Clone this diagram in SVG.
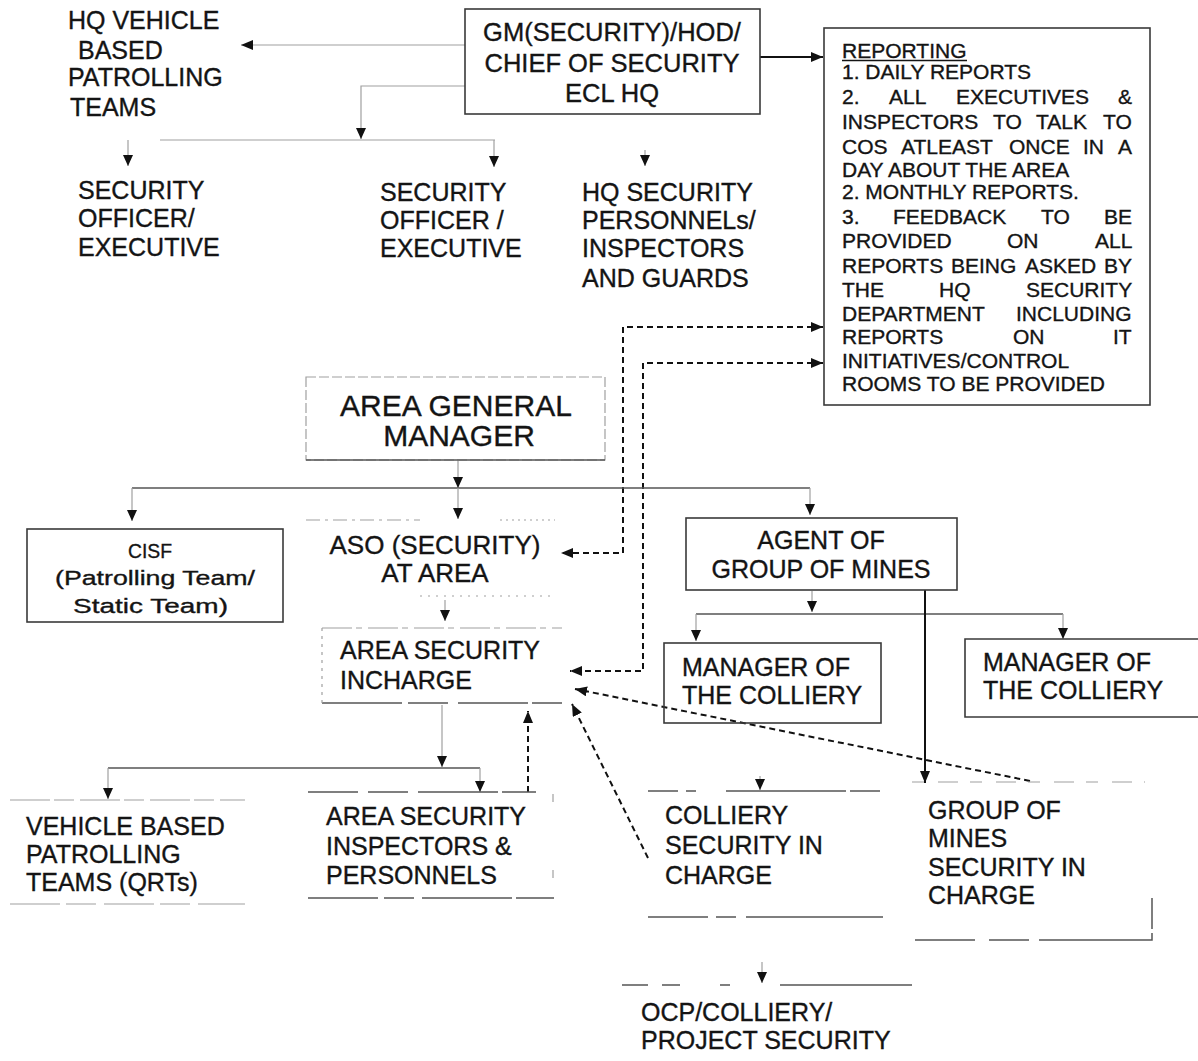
<svg xmlns="http://www.w3.org/2000/svg" width="1198" height="1061" viewBox="0 0 1198 1061">
<defs>
<style>
text{font-family:"Liberation Sans",Arial,sans-serif;fill:#141414;stroke:#141414;stroke-width:0.35;}
.t25{font-size:25px}
.t21{font-size:21px}
.box{fill:none;stroke:#3a3a3a;stroke-width:1.6}
.fbox{fill:none;stroke:#a0a0a0;stroke-width:1.2}
.faint{fill:none;stroke:#a0a0a0;stroke-width:1.2}
.mid{fill:none;stroke:#555;stroke-width:1.5}
.edge{fill:none;stroke:#111;stroke-width:2}
.dash{fill:none;stroke:#111;stroke-width:2;stroke-dasharray:6 4}
</style>
<marker id="arr" viewBox="0 0 12 10" refX="12" refY="5" markerWidth="12" markerHeight="10" markerUnits="userSpaceOnUse" orient="auto-start-reverse"><path d="M0,0 L12,5 L0,10 z" fill="#111"/></marker>
<marker id="tri" viewBox="0 0 11 10" refX="11" refY="5" markerWidth="11" markerHeight="10" markerUnits="userSpaceOnUse" orient="auto"><path d="M0,0 L11,5 L0,10 z" fill="#111"/></marker>
</defs>
<rect x="0" y="0" width="1198" height="1061" fill="#fff"/>

<g id="connectors">
  <path class="faint" d="M465,45 H241" marker-end="url(#arr)"/>
  <path class="faint" d="M465,86 H361 V139" marker-end="url(#tri)"/>
  <path class="faint" d="M160,140 H495"/>
  <path class="faint" d="M128,140 V166" marker-end="url(#tri)"/>
  <path class="faint" d="M494,140 V167" marker-end="url(#tri)"/>
  <path class="faint" d="M645,150 V166" marker-end="url(#tri)"/>
  <path class="edge" d="M760,57 H823" marker-end="url(#arr)"/>
  <path class="dash" d="M823,327 H623 V553 H561" marker-start="url(#arr)" marker-end="url(#arr)"/>
  <path class="dash" d="M823,363 H643 V671 H570" marker-start="url(#arr)" marker-end="url(#arr)"/>
  <path class="faint" d="M458,461 V488" marker-end="url(#tri)"/>
  <path class="mid" d="M132,488 H810"/>
  <path class="faint" d="M132,488 V521" marker-end="url(#tri)"/>
  <path class="faint" d="M458,488 V519" marker-end="url(#tri)"/>
  <path class="faint" d="M810,488 V515" marker-end="url(#tri)"/>
  <path class="faint" d="M445,600 V621" marker-end="url(#tri)"/>
  <path class="faint" d="M812,591 V612" marker-end="url(#tri)"/>
  <path class="mid" d="M696,614 H1063"/>
  <path class="faint" d="M696,614 V641" marker-end="url(#tri)"/>
  <path class="faint" d="M1063,614 V639" marker-end="url(#tri)"/>
  <path class="edge" d="M925,590 V783" marker-end="url(#arr)"/>
  <path class="dash" d="M1030,781 L575,689" marker-end="url(#arr)"/>
  <path class="dash" d="M648,858 L572,704" marker-end="url(#arr)"/>
  <path class="faint" d="M442,705 V767" marker-end="url(#tri)"/>
  <path class="mid" d="M108,768 H480"/>
  <path class="faint" d="M108,768 V799" marker-end="url(#tri)"/>
  <path class="faint" d="M480,768 V792" marker-end="url(#tri)"/>
  <path class="dash" d="M528,792 V711" marker-end="url(#arr)"/>
  <path class="faint" d="M760,776 V790" marker-end="url(#tri)"/>
  <path class="faint" d="M762,962 V983" marker-end="url(#tri)"/>
</g>

<g id="hq-vehicle">
  <text class="t25" x="68" y="29">HQ VEHICLE</text>
  <text class="t25" x="78" y="59">BASED</text>
  <text class="t25" x="68" y="86">PATROLLING</text>
  <text class="t25" x="70" y="116">TEAMS</text>
</g>

<g id="gm">
  <rect class="box" x="465" y="9" width="295" height="105"/>
  <text x="612" y="41" font-size="25.5" text-anchor="middle">GM(SECURITY)/HOD/</text>
  <text x="612" y="72" font-size="25.5" text-anchor="middle">CHIEF OF SECURITY</text>
  <text x="612" y="102" font-size="25.5" text-anchor="middle">ECL HQ</text>
</g>

<g id="officer1">
  <text class="t25" x="78" y="199">SECURITY</text>
  <text class="t25" x="78" y="227">OFFICER/</text>
  <text class="t25" x="78" y="256">EXECUTIVE</text>
</g>

<g id="officer2">
  <text class="t25" x="380" y="201">SECURITY</text>
  <text class="t25" x="380" y="229">OFFICER /</text>
  <text class="t25" x="380" y="257">EXECUTIVE</text>
</g>

<g id="hq-personnel">
  <text class="t25" x="582" y="201">HQ SECURITY</text>
  <text class="t25" x="582" y="229">PERSONNELs/</text>
  <text class="t25" x="582" y="257">INSPECTORS</text>
  <text class="t25" x="582" y="287">AND GUARDS</text>
</g>

<g id="reporting">
  <rect class="box" x="824" y="28" width="326" height="377"/>
  <text class="t21" x="842" y="57.5">REPORTING</text>
  <line x1="842" y1="60.5" x2="967" y2="60.5" stroke="#141414" stroke-width="1.4"/>
  <text class="t21" x="842" y="79">1. DAILY REPORTS</text>
  <text class="t21" y="104"><tspan x="842">2.</tspan><tspan x="889">ALL</tspan><tspan x="956">EXECUTIVES</tspan><tspan x="1118">&amp;</tspan></text>
  <text class="t21" y="129"><tspan x="842">INSPECTORS</tspan><tspan x="993">TO</tspan><tspan x="1036">TALK</tspan><tspan x="1103">TO</tspan></text>
  <text class="t21" y="154"><tspan x="842">COS</tspan><tspan x="901">ATLEAST</tspan><tspan x="1009">ONCE</tspan><tspan x="1083">IN</tspan><tspan x="1118">A</tspan></text>
  <text class="t21" x="842" y="177">DAY ABOUT THE AREA</text>
  <text class="t21" x="842" y="199">2. MONTHLY REPORTS.</text>
  <text class="t21" y="224"><tspan x="842">3.</tspan><tspan x="893">FEEDBACK</tspan><tspan x="1041">TO</tspan><tspan x="1104">BE</tspan></text>
  <text class="t21" y="248"><tspan x="842">PROVIDED</tspan><tspan x="1007">ON</tspan><tspan x="1095">ALL</tspan></text>
  <text class="t21" y="272.5"><tspan x="842">REPORTS</tspan><tspan x="951">BEING</tspan><tspan x="1025">ASKED</tspan><tspan x="1104">BY</tspan></text>
  <text class="t21" y="297"><tspan x="842">THE</tspan><tspan x="939">HQ</tspan><tspan x="1026">SECURITY</tspan></text>
  <text class="t21" y="321"><tspan x="842">DEPARTMENT</tspan><tspan x="1016">INCLUDING</tspan></text>
  <text class="t21" y="344"><tspan x="842">REPORTS</tspan><tspan x="1013">ON</tspan><tspan x="1113">IT</tspan></text>
  <text class="t21" x="842" y="368">INITIATIVES/CONTROL</text>
  <text class="t21" x="842" y="391">ROOMS TO BE PROVIDED</text>
</g>

<g id="agm">
  <rect class="fbox" x="306" y="377" width="299" height="83" stroke-dasharray="10 3"/>
  <line class="mid" x1="306" y1="460" x2="605" y2="460"/>
  <text x="456" y="416" font-size="30" text-anchor="middle">AREA GENERAL</text>
  <text x="459" y="446" font-size="30" text-anchor="middle">MANAGER</text>
</g>

<g id="cisf">
  <rect class="box" x="27" y="529" width="256" height="93"/>
  <text x="128" y="558" font-size="20.5" textLength="44" lengthAdjust="spacingAndGlyphs">CISF</text>
  <text x="55" y="585" font-size="20.5" textLength="200" lengthAdjust="spacingAndGlyphs">(Patrolling Team/</text>
  <text x="73" y="613" font-size="20.5" textLength="155" lengthAdjust="spacingAndGlyphs">Static Team)</text>
</g>

<g id="aso">
  <line class="faint" x1="306" y1="520" x2="420" y2="520" stroke-dasharray="14 5 3 5"/>
  <line class="faint" x1="500" y1="520" x2="555" y2="520" stroke-dasharray="2 4"/>
  <line class="faint" x1="420" y1="596" x2="555" y2="596" stroke-dasharray="2 6"/>
  <text x="435" y="554" font-size="26" text-anchor="middle">ASO (SECURITY)</text>
  <text x="435" y="582" font-size="26" text-anchor="middle">AT AREA</text>
</g>

<g id="asi">
  <line class="faint" x1="322" y1="628" x2="562" y2="628" stroke-dasharray="30 4 6 6"/>
  <line class="mid" x1="322" y1="703" x2="562" y2="703" stroke-dasharray="80 6 40 10 70 4"/>
  <line class="faint" x1="322" y1="628" x2="322" y2="703" stroke-dasharray="3 5"/>
  <text class="t25" x="340" y="659">AREA SECURITY</text>
  <text class="t25" x="340" y="689">INCHARGE</text>
</g>

<g id="agent">
  <rect class="box" x="686" y="518" width="271" height="72" stroke-width="2"/>
  <text class="t25" x="821" y="549" text-anchor="middle">AGENT OF</text>
  <text class="t25" x="821" y="578" text-anchor="middle">GROUP OF MINES</text>
</g>

<g id="manager1">
  <rect class="box" x="664" y="643" width="217" height="80"/>
  <text class="t25" x="682" y="676">MANAGER OF</text>
  <text class="t25" x="682" y="704">THE COLLIERY</text>
</g>

<g id="manager2">
  <path class="box" d="M1198,639 H965 V717 H1198"/>
  <text class="t25" x="983" y="671">MANAGER OF</text>
  <text class="t25" x="983" y="699">THE COLLIERY</text>
</g>

<g id="vehicle-qrt">
  <line class="faint" x1="10" y1="800" x2="245" y2="800" stroke-dasharray="40 4 20 6"/>
  <line class="faint" x1="10" y1="904" x2="245" y2="904" stroke-dasharray="50 6 30 8"/>
  <text class="t25" x="26" y="835">VEHICLE BASED</text>
  <text class="t25" x="26" y="863">PATROLLING</text>
  <text class="t25" x="26" y="891">TEAMS  (QRTs)</text>
</g>

<g id="area-inspectors">
  <line class="mid" x1="308" y1="792" x2="536" y2="792" stroke-dasharray="50 10 40 10 80 4"/>
  <line class="mid" x1="308" y1="898" x2="554" y2="898" stroke-dasharray="70 6 30 8 90 4"/>
  <line class="faint" x1="553" y1="794" x2="553" y2="802"/>
  <line class="faint" x1="553" y1="870" x2="553" y2="878"/>
  <text class="t25" x="326" y="825">AREA SECURITY</text>
  <text class="t25" x="326" y="855">INSPECTORS &amp;</text>
  <text class="t25" x="326" y="884">PERSONNELS</text>
</g>

<g id="colliery-security">
  <line class="mid" x1="648" y1="791" x2="880" y2="791" stroke-dasharray="30 8 10 30 120 4"/>
  <line class="mid" x1="648" y1="917" x2="883" y2="917" stroke-dasharray="60 8 20 10 140"/>
  <text class="t25" x="665" y="824">COLLIERY</text>
  <text class="t25" x="665" y="854">SECURITY IN</text>
  <text class="t25" x="665" y="884">CHARGE</text>
</g>

<g id="gom-security">
  <line class="faint" x1="912" y1="782" x2="1145" y2="782" stroke-dasharray="12 14 20 12"/>
  <path class="mid" d="M915,940 H1152 V898" stroke-dasharray="60 14 40 10 120 4"/>
  <text class="t25" x="928" y="819">GROUP OF</text>
  <text class="t25" x="928" y="847">MINES</text>
  <text class="t25" x="928" y="876">SECURITY IN</text>
  <text class="t25" x="928" y="904">CHARGE</text>
</g>

<g id="ocp">
  <line class="mid" x1="622" y1="985" x2="912" y2="985" stroke-dasharray="26 14 18 40 10 50 140"/>
  <text class="t25" x="641" y="1021">OCP/COLLIERY/</text>
  <text class="t25" x="641" y="1049">PROJECT SECURITY</text>
</g>
</svg>
